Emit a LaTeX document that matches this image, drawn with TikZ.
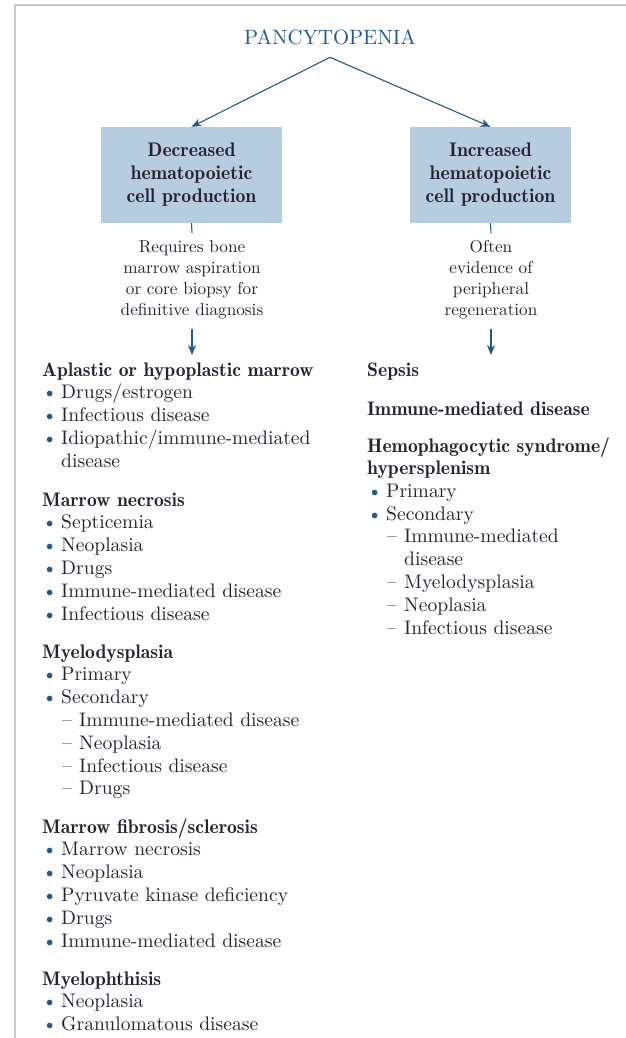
\documentclass[tikz,border=0pt]{standalone}
\usepackage{fontspec}
% the 10pt design at every size, and the demi weight for bold
\setmainfont{lmroman10-regular.otf}[BoldFont=lmromandemi10-regular.otf]
\usetikzlibrary{arrows.meta}

\definecolor{titleblue}{HTML}{1F5A8C}
\definecolor{boxblue}{HTML}{B8CCE0}
\definecolor{inkdark}{HTML}{27222F}
\definecolor{framegray}{HTML}{C8C8C8}

% bullet and dash in front of the list entries
\newcommand{\bul}{\makebox[19pt][l]{\textcolor{titleblue}{\textbullet}}}
\newcommand{\dsh}{\makebox[17pt][l]{\textendash}}

\tikzset{
    title/.style={inner xsep=0pt, inner ysep=12.5pt, text=titleblue,
        font=\fontsize{20.7}{25}\selectfont},
    cause/.style={fill=boxblue, inner sep=0pt, minimum height=96pt, align=center,
        font=\fontsize{19.7}{23}\selectfont\bfseries},
    note/.style={anchor=north, inner xsep=0pt, inner ysep=7pt, align=center,
        font=\fontsize{17.2}{21}\selectfont},
    head/.style={anchor=base west, inner sep=0pt, font=\fontsize{19.6}{23}\selectfont\bfseries},
    item/.style={anchor=base west, inner sep=0pt, font=\fontsize{19.6}{23}\selectfont},
    arr/.style={-{Stealth[length=10pt,width=8pt]}, line width=1.1pt, titleblue},
}

\begin{document}
\begin{tikzpicture}[x=1pt, y=-1pt, text=inkdark]

    \useasboundingbox (0,0) rectangle (626,1038);
    \draw[framegray, line width=2pt] (15,1038) -- (15,5) -- (626,5);

    % Top of the tree
    \node[title] (pan) at (330,37) {PANCYTOPENIA};

    \node[cause, minimum width=181pt] (dec) at (191.5,175)
        {Decreased\\hematopoietic\\cell production};
    \node[cause, minimum width=161pt] (inc) at (490.5,175)
        {Increased\\hematopoietic\\cell production};

    \draw[arr] (pan.south) -- (dec.north);
    \draw[arr] (pan.south) -- (inc.north);

    % Notes under the two boxes
    \node[note] (decnote) at (192,233)
        {Requires bone\\marrow aspiration\\or core biopsy for\\definitive diagnosis};
    \node[note] (incnote) at (491,233)
        {Often\\evidence of\\peripheral\\regeneration};

    \coordinate (decend) at (192,355);
    \coordinate (incend) at (491,355);

    \draw[titleblue, line width=1.1pt] (dec.south) -- (decnote.north);
    \draw[titleblue, line width=1.1pt] (inc.south) -- (incnote.north);
    \draw[arr, shorten <=3pt] (decnote.south) -- (decend);
    \draw[arr, shorten <=3pt] (incnote.south) -- (incend);

    % Left column
    \node[head] (aplastic) at (42,376) {Aplastic or hypoplastic marrow};
    \foreach \txt [count=\i] in {Drugs/estrogen, Infectious disease, Idiopathic/immune-mediated}{
        \node[item] (aplastic\i) at (42, 376 + 22.8*\i) {\bul\txt};
    }
    \node[item] (aplastic4) at (61,467.2) {disease};

    \node[head] (necrosis) at (42,506) {Marrow necrosis};
    \foreach \txt [count=\i] in {Septicemia, Neoplasia, Drugs, Immune-mediated disease, Infectious disease}{
        \node[item] (necrosis\i) at (42, 506 + 22.8*\i) {\bul\txt};
    }

    \node[head] (mds) at (42,658) {Myelodysplasia};
    \foreach \txt [count=\i] in {Primary, Secondary}{
        \node[item] (mds\i) at (42, 658 + 22.8*\i) {\bul\txt};
    }
    \foreach \txt [count=\i] in {Immune-mediated disease, Neoplasia, Infectious disease, Drugs}{
        \node[item] (mdssub\i) at (62, 703.6 + 22.8*\i) {\dsh\txt};
    }

    \node[head] (fibrosis) at (42,833) {Marrow fibrosis/sclerosis};
    \foreach \txt [count=\i] in {Marrow necrosis, Neoplasia, Pyruvate kinase deficiency, Drugs, Immune-mediated disease}{
        \node[item] (fibrosis\i) at (42, 833 + 22.8*\i) {\bul\txt};
    }

    \node[head] (myelo) at (42,985) {Myelophthisis};
    \foreach \txt [count=\i] in {Neoplasia, Granulomatous disease}{
        \node[item] (myelo\i) at (42, 985 + 22.8*\i) {\bul\txt};
    }

    % Right column
    \node[head] (sepsis) at (367,376) {Sepsis};
    \node[head] (immune) at (367,415) {Immune-mediated disease};
    \node[head] (hlh) at (367,452) {Hemophagocytic syndrome/};
    \node[head] (hlh2) at (367,474.5) {hypersplenism};
    \node[item] (hlh3) at (367,497.3) {\bul Primary};
    \node[item] (hlh4) at (367,520.1) {\bul Secondary};
    \node[item] (hlh5) at (387,542.9) {\dsh Immune-mediated};
    \node[item] (hlh6) at (404,565.7) {disease};
    \foreach \txt [count=\i] in {Myelodysplasia, Neoplasia, Infectious disease}{
        \node[item] (hlhsub\i) at (387, 565.7 + 22.8*\i) {\dsh\txt};
    }

\end{tikzpicture}
\end{document}
